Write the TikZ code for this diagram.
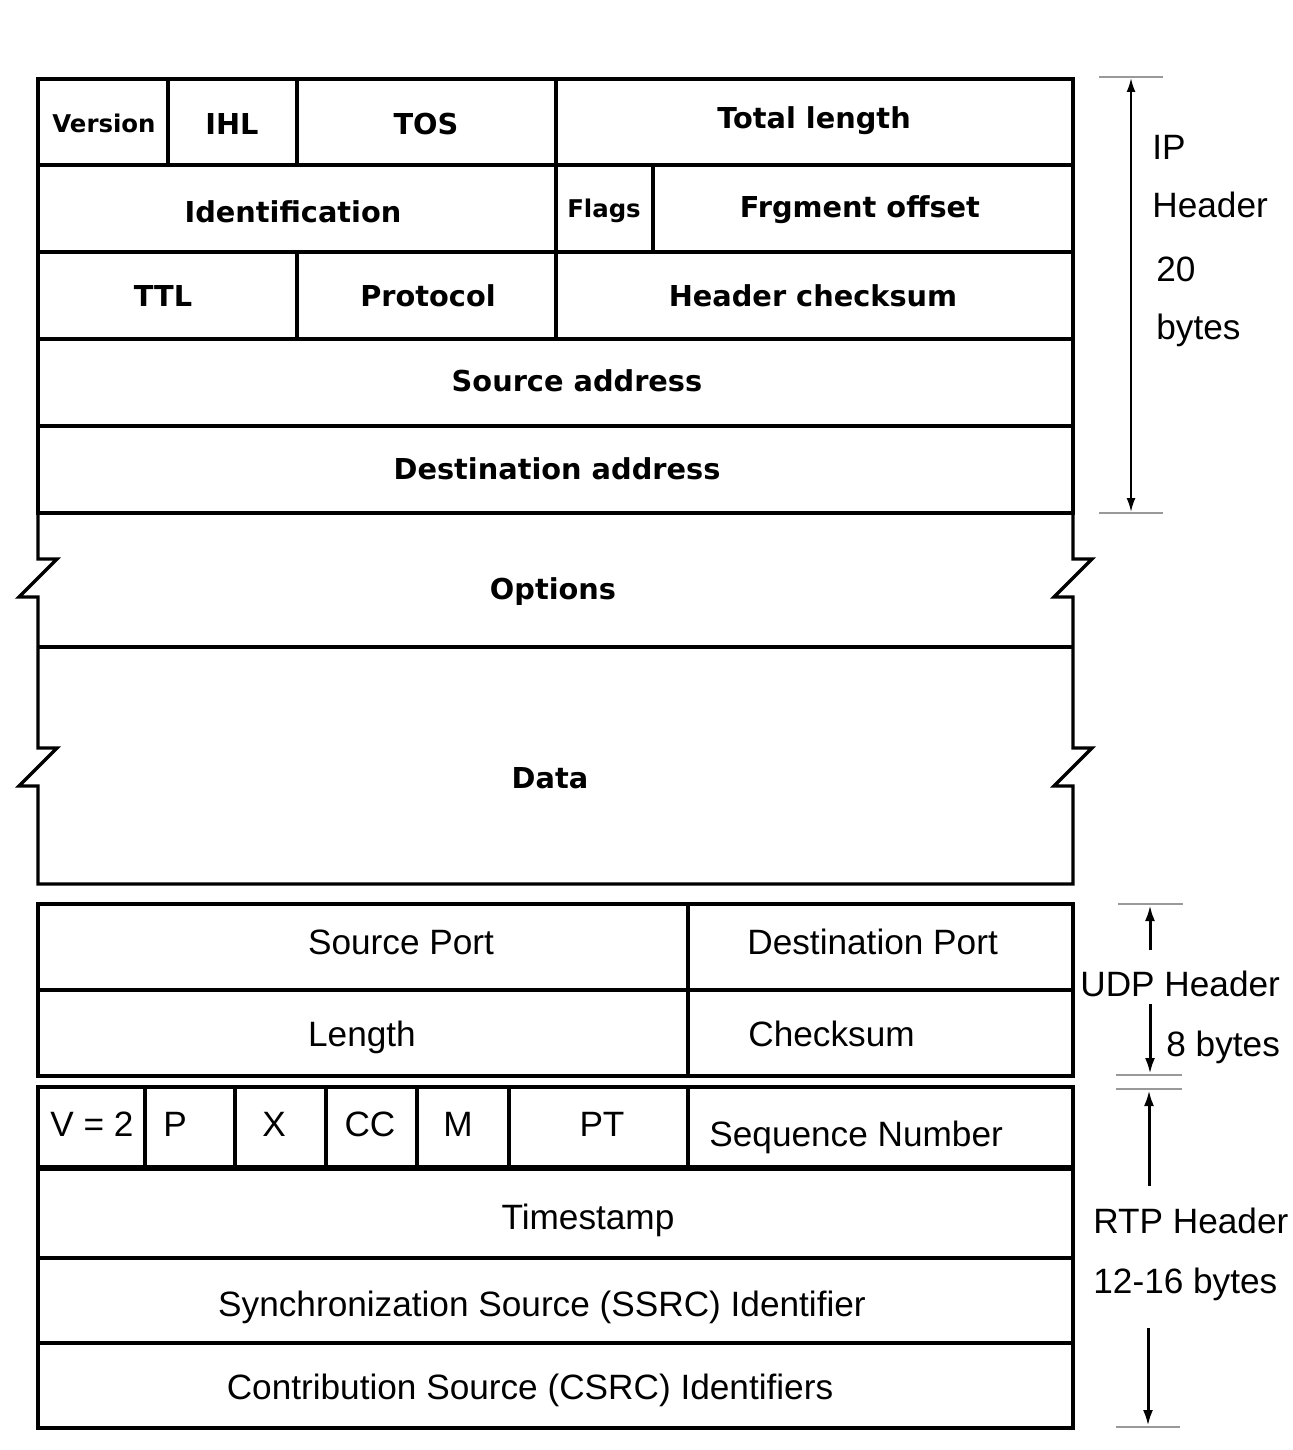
\documentclass[tikz,border=0pt]{standalone}
\usepackage{fontspec}
\setmainfont{Liberation Sans}
\newfontfamily\ipfont{DejaVu Sans}
\usetikzlibrary{arrows.meta}

\tikzset{
  %% ---- lines ----
  ipline/.style   = {line width=1.7pt, line join=miter},
  udpline/.style  = {line width=2pt, line join=miter},
  rtpline/.style  = {line width=1.8pt, line join=miter},
  tickline/.style = {line width=0.7pt, color=gray!80},
  %% ---- arrows ----
  dimarrow/.style = {line width=1.5pt, -{Latex[length=8pt,width=5pt]}},
  dimboth/.style  = {line width=1pt, {Latex[length=7pt,width=4.5pt]}-{Latex[length=7pt,width=4.5pt]}},
  %% ---- text ----
  iptext/.style   = {font=\ipfont\bfseries\fontsize{14.4}{16}\selectfont,
                     anchor=base, inner sep=0pt},
  ipsmall/.style  = {iptext, font=\ipfont\bfseries\fontsize{12.2}{14}\selectfont},
  field/.style    = {font=\fontsize{17.6}{20}\selectfont, anchor=base, inner sep=0pt},
  fieldl/.style   = {field, anchor=base west},
}

\begin{document}
\begin{tikzpicture}[x=0.5pt, y=-0.5pt]
  \useasboundingbox (0,0) rectangle (1292,1450);

  %% IP header grid
  \draw[ipline] (38,79) rectangle (1073,513);
  \foreach \y in {165,252,339,426}
    \draw[ipline] (38,\y) -- (1073,\y);
  \draw[ipline] (168,79) -- (168,165);
  \draw[ipline] (297,79) -- (297,165);
  \draw[ipline] (556,79) -- (556,339);
  \draw[ipline] (653,165) -- (653,252);
  \draw[ipline] (297,252) -- (297,339);

  %% Options + Data, broken sides
  \draw[ipline] (38,513) -- (38,559) -- (57,559) -- (19,597) -- (38,597)
    -- (38,748) -- (57,748) -- (19,786) -- (38,786) -- (38,884)
    -- (1073,884) -- (1073,786) -- (1054,786) -- (1092,748) -- (1073,748)
    -- (1073,597) -- (1054,597) -- (1092,559) -- (1073,559) -- (1073,513);
  \draw[ipline] (38,647) -- (1073,647);

  %% IP labels
  \node[ipsmall] (ver)   at (104,133) {Version};
  \node[iptext]  (ihl)   at (232,134) {IHL};
  \node[iptext]  (tos)   at (426,134) {TOS};
  \node[iptext]  (tlen)  at (814,128) {Total length};
  \node[iptext]  (ident) at (293,222) {Identification};
  \node[ipsmall] (flags) at (604,217) {Flags};
  \node[iptext]  (frag)  at (860,217) {Frgment offset};
  \node[iptext]  (ttl)   at (163,306) {TTL};
  \node[iptext]  (proto) at (428,306) {Protocol};
  \node[iptext]  (hcs)   at (813,306) {Header checksum};
  \node[iptext]  (src)   at (577,391) {Source address};
  \node[iptext]  (dst)   at (557,479) {Destination address};
  \node[iptext]  (opt)   at (553,599) {Options};
  \node[iptext]  (data)  at (550,788) {Data};

  %% UDP header
  \draw[udpline] (38,904) rectangle (1073,1076);
  \draw[udpline] (38,990) -- (1073,990);
  \draw[line width=2.4pt] (688,904) -- (688,1076);
  \node[field]  (sport) at (401,954)  {Source Port};
  \node[fieldl] (dport) at (747,954)  {Destination Port};
  \node[field]  (ulen)  at (362,1046) {Length};
  \node[fieldl] (ucs)   at (748,1046) {Checksum};

  %% RTP header
  \draw[rtpline] (38,1087) rectangle (1073,1428);
  \draw[line width=3.2pt] (38,1168) -- (1073,1168);
  \draw[rtpline] (38,1258) -- (1073,1258);
  \draw[rtpline] (38,1343) -- (1073,1343);
  \foreach \x in {145,235,326,417,509}
    \draw[rtpline] (\x,1087) -- (\x,1168);
  \draw[line width=2.4pt] (688,1087) -- (688,1168);
  \node[fieldl] (ver2) at (50,1136)  {V = 2};
  \node[fieldl] (pad)  at (163,1136) {P};
  \node[field]  (ext)  at (274,1136) {X};
  \node[field]  (cc)   at (370,1136) {CC};
  \node[field]  (mrk)  at (458,1136) {M};
  \node[field]  (pt)   at (602,1136) {PT};
  \node[fieldl] (seq)  at (709,1146) {Sequence Number};
  \node[field]  (ts)   at (588,1229) {Timestamp};
  \node[field]  (ssrc) at (542,1316) {Synchronization Source (SSRC) Identifier};
  \node[field]  (csrc) at (530,1399) {Contribution Source (CSRC) Identifiers};

  %% IP size marker
  \draw[tickline] (1099,77) -- (1163,77);
  \draw[tickline] (1099,513) -- (1163,513);
  \coordinate (iptop) at (1131,78);
  \coordinate (ipbot) at (1131,512);
  \draw[dimboth] (iptop) -- (ipbot);
  \node[fieldl] (lip)  at (1152,159) {IP};
  \node[fieldl] (lhdr) at (1152,217) {Header};
  \node[fieldl] (l20)  at (1156,281) {20};
  \node[fieldl] (lby)  at (1156,339) {bytes};

  %% UDP size marker
  \draw[tickline] (1118,904) -- (1183,904);
  \draw[tickline] (1116,1075) -- (1182,1075);
  \coordinate (udptop) at (1150,905);
  \coordinate (udpbot) at (1150,1074);
  \coordinate (udpup)  at (1150,950);
  \coordinate (udpdn)  at (1150,1004);
  \node[fieldl] (udplab) at (1080,996)  {UDP Header};
  \node[fieldl] (udpsz)  at (1166,1056) {8 bytes};
  \draw[dimarrow] (udpup) -- (udptop);
  \draw[dimarrow] (udpdn) -- (udpbot);

  %% RTP size marker
  \draw[tickline] (1116,1089) -- (1182,1089);
  \draw[tickline] (1116,1427) -- (1180,1427);
  \coordinate (rtptop) at (1149,1090);
  \coordinate (rtpbot) at (1148,1426);
  \coordinate (rtpup)  at (1149,1186);
  \coordinate (rtpdn)  at (1148,1328);
  \node[fieldl] (rtplab) at (1093,1233) {RTP Header};
  \node[fieldl] (rtpsz)  at (1093,1293) {12-16 bytes};
  \draw[dimarrow] (rtpup) -- (rtptop);
  \draw[dimarrow] (rtpdn) -- (rtpbot);

\end{tikzpicture}
\end{document}
